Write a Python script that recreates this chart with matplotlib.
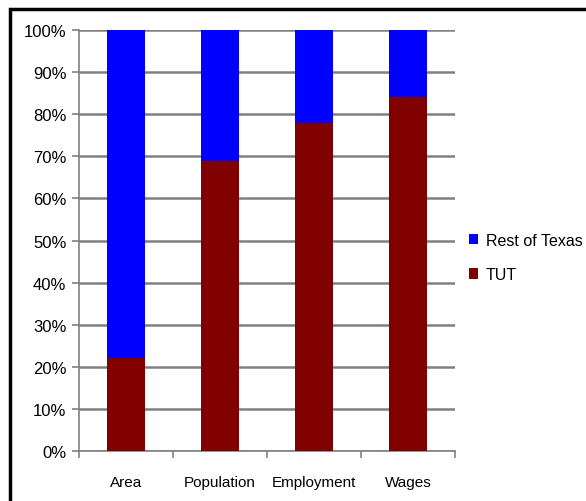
import numpy as np
import matplotlib.pyplot as plt
from matplotlib.patches import Rectangle

plt.rcParams['font.family'] = ['Liberation Sans', 'DejaVu Sans']

categories = ['Area', 'Population', 'Employment', 'Wages']
tut = [22, 69, 78, 84]
rest = [78, 31, 22, 16]

fig = plt.figure(figsize=(5.86, 5.02), dpi=100)
ax = fig.add_axes([0.1348, 0.0996, 0.642, 0.8386])

# outer frame of the chart
fig.patches.append(Rectangle((10/586, -0.02), 1.0, 1 - 10/502 + 0.02, transform=fig.transFigure,
                             fill=False, edgecolor='black', linewidth=2.5, clip_on=False))

x = np.arange(len(categories))
ax.bar(x, tut, width=0.4, color='#800000', label='TUT', zorder=3)
ax.bar(x, rest, width=0.4, bottom=tut, color='#0000FF', label='Rest of Texas', zorder=3)

ax.set_xlim(-0.5, len(categories) - 0.5)
ax.set_ylim(0, 100)
ax.set_yticks(np.arange(0, 101, 10))
ax.set_yticklabels(['%d%%' % v for v in range(0, 101, 10)], fontsize=12)
ax.yaxis.grid(True, color='#808080', linewidth=1.8, zorder=0)
ax.set_axisbelow(True)

ax.set_xticks(x)
ax.set_xticklabels(categories, fontsize=11)
ax.set_xticks(np.arange(-0.5, len(categories), 1), minor=True)
ax.tick_params(axis='x', which='major', length=0, pad=17)
ax.tick_params(axis='x', which='minor', length=5, color='#808080', width=1.2)
ax.tick_params(axis='y', length=5, color='#808080', width=1.2, pad=4)

for s in ['top', 'right']:
    ax.spines[s].set_visible(False)
for s in ['left', 'bottom']:
    ax.spines[s].set_color('#808080')
    ax.spines[s].set_linewidth(1.2)

h, l = ax.get_legend_handles_labels()
fig.legend(h[::-1], l[::-1], loc='center left', bbox_to_anchor=(0.775, 0.485),
           frameon=False, fontsize=11.5, handlelength=0.6, handleheight=0.6,
           handletextpad=0.5, labelspacing=1.2)

fig.savefig('out.png', dpi=100)
